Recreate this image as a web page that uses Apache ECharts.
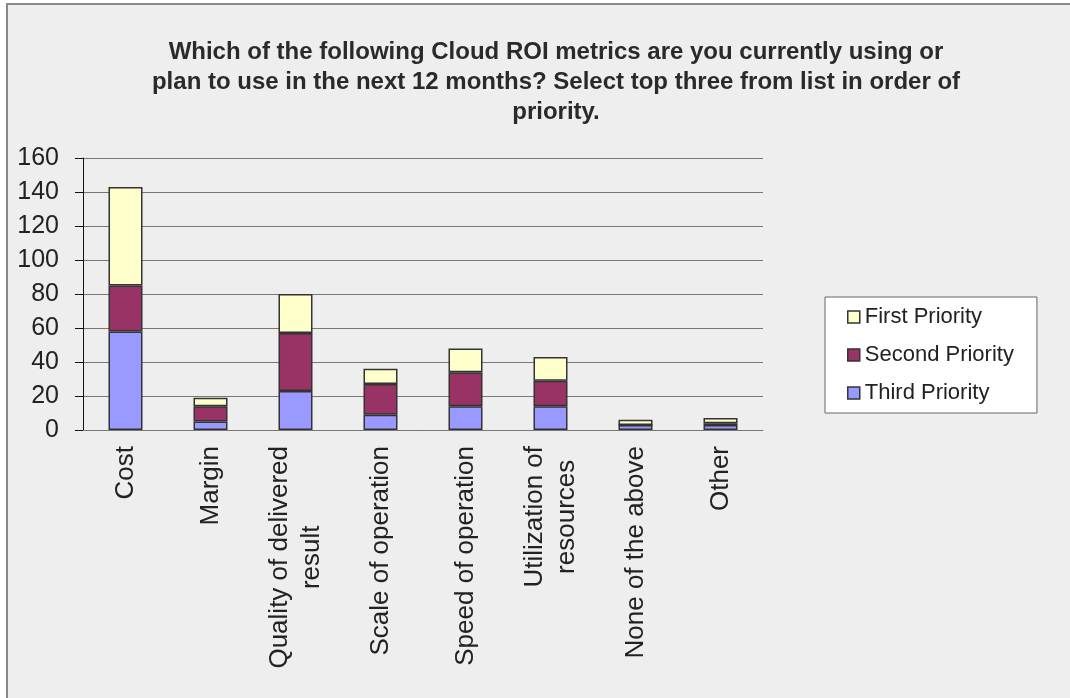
<!DOCTYPE html>
<html>
<head>
<meta charset="utf-8">
<script src="https://cdn.jsdelivr.net/npm/echarts@6/dist/echarts.min.js"></script>
<style>
  html, body { margin: 0; padding: 0; background: #fff; }
  #frame {
    position: absolute; left: 6px; top: 3px; width: 1080px; height: 710px;
    background: #eeeeee; border-left: 2px solid #888; border-top: 2px solid #888;
  }
  #main { position: absolute; left: 0; top: 0; width: 1070px; height: 698px; }
</style>
</head>
<body>
<div id="frame"></div>
<div id="main"></div>
<script>
// categories and values
var categories = ['Cost', 'Margin', 'Quality of delivered\nresult', 'Scale of operation',
  'Speed of operation', 'Utilization of\nresources', 'None of the above', 'Other']
var thirdPriority = [58, 5, 23, 9, 14, 14, 3, 3]
var secondPriority = [27, 9, 34, 18, 20, 15, 0, 1]
var firstPriority = [58, 5, 23, 9, 14, 14, 3, 3]
var legendNames = ['First Priority', 'Second Priority', 'Third Priority']

var font = 'Liberation Sans, Arial, sans-serif'
var barBorder = { borderColor: '#333', borderWidth: 1.5 }

var myChart = echarts.init(document.getElementById('main'))

var option = {
  backgroundColor: 'transparent',
  animation: false,
  title: {
    text: 'Which of the following Cloud ROI metrics are you currently using or\nplan to use in the next 12 months? Select top three from list in order of\npriority.',
    left: 551,
    top: 32,
    textAlign: 'center',
    textStyle: {
      fontFamily: font,
      fontSize: 24,
      fontWeight: 'bold',
      color: '#2a2a2a',
      lineHeight: 30
    }
  },
  legend: {
    data: legendNames,
    orient: 'vertical',
    left: 825,
    top: 297,
    width: 213,
    icon: 'rect',
    itemWidth: 12,
    itemHeight: 12,
    itemGap: 16,
    padding: [9, 23, 9, 22],
    backgroundColor: '#ffffff',
    borderColor: '#666',
    borderWidth: 1,
    itemStyle: { borderColor: '#333', borderWidth: 1.5 },
    textStyle: { fontFamily: font, fontSize: 22, color: '#222', lineHeight: 22 }
  },
  grid: {
    left: 83,
    right: 307,
    top: 158,
    bottom: 268
  },
  xAxis: {
    type: 'category',
    data: categories,
    axisLine: { lineStyle: { color: '#777', width: 1 } },
    axisTick: { show: false },
    axisLabel: {
      rotate: 90,
      margin: 16,
      interval: 0,
      fontFamily: font,
      fontSize: 26,
      color: '#222',
      lineHeight: 32,
      // centre each line of a two-line label, as in the original
      formatter: function (v) {
        return v.split('\n').map(function (s) { return '{c|' + s + '}' }).join('\n')
      },
      rich: {
        c: { align: 'center', fontFamily: font, fontSize: 26, color: '#222', lineHeight: 32 }
      }
    }
  },
  yAxis: {
    type: 'value',
    min: 0,
    max: 160,
    interval: 20,
    axisLine: { show: true, lineStyle: { color: '#111', width: 1 } },
    axisTick: { show: true, length: 8, lineStyle: { color: '#111' } },
    splitLine: { lineStyle: { color: '#777', width: 1 } },
    axisLabel: {
      margin: 24,
      fontFamily: font,
      fontSize: 25,
      color: '#222'
    }
  },
  series: [
    {
      name: 'Third Priority',
      type: 'bar',
      stack: 'total',
      barWidth: 34,
      data: thirdPriority,
      itemStyle: Object.assign({ color: '#9999ff' }, barBorder)
    },
    {
      name: 'Second Priority',
      type: 'bar',
      stack: 'total',
      barWidth: 34,
      data: secondPriority,
      itemStyle: Object.assign({ color: '#993366' }, barBorder)
    },
    {
      name: 'First Priority',
      type: 'bar',
      stack: 'total',
      barWidth: 34,
      data: firstPriority,
      itemStyle: Object.assign({ color: '#ffffcc' }, barBorder)
    }
  ]
}

myChart.setOption(option)
</script>
</body>
</html>
